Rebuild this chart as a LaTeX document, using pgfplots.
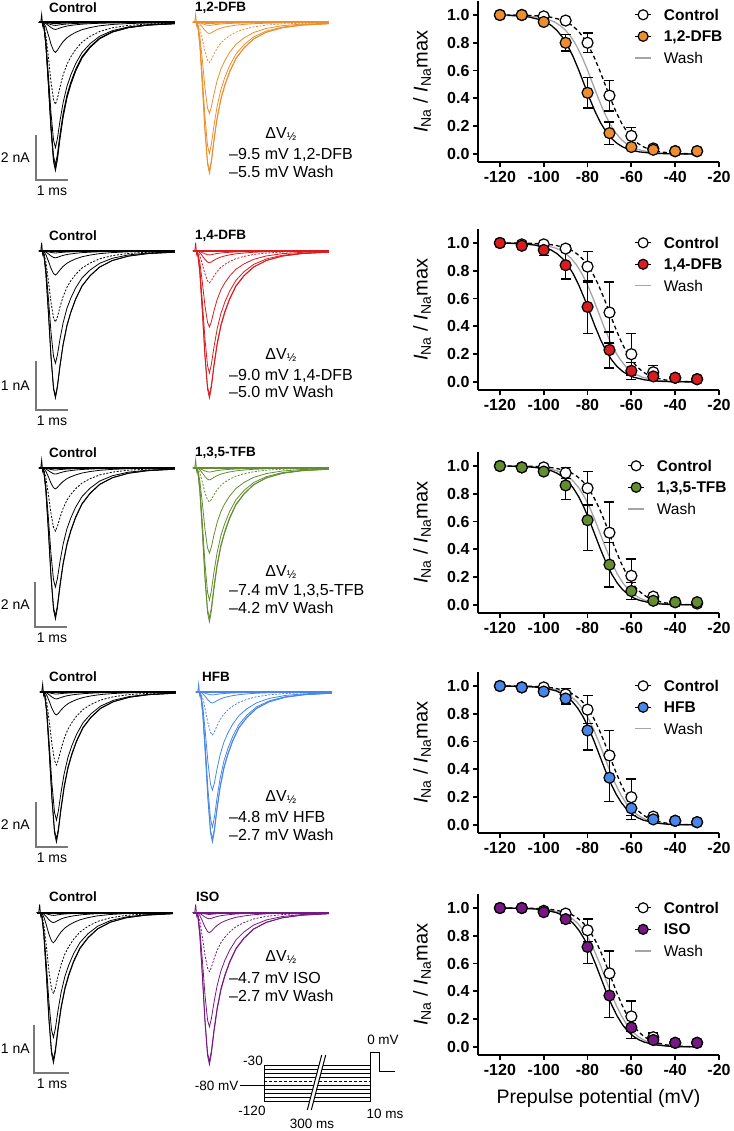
\documentclass[border=0pt]{standalone}
\usepackage{fontspec}
\setmainfont{Liberation Sans}
\usepackage{pgfplots}
\pgfplotsset{compat=1.18}
\usepackage{pgfplotstable}

\definecolor{cdfa}{RGB}{236,142,46}
\definecolor{cdfb}{RGB}{216,28,32}
\definecolor{ctfb}{RGB}{100,140,48}
\definecolor{chfb}{RGB}{72,134,232}
\definecolor{ciso}{RGB}{118,24,130}
\definecolor{washgray}{RGB}{165,165,165}
\definecolor{bargray}{RGB}{120,120,120}

\newcommand{\fs}[1]{\fontsize{#1}{#1}\selectfont}

% inactivation data: V, control mean/sem, drug mean/sem
\pgfplotstableread{
V c ce d de
-120 1.00 0 1.00 0
-110 1.00 0 1.00 0
-100 0.99 0 0.95 0.01
-90 0.96 0.01 0.80 0.06
-80 0.80 0.07 0.44 0.11
-70 0.42 0.11 0.15 0.08
-60 0.13 0.06 0.05 0.02
-50 0.04 0.01 0.03 0.01
-40 0.02 0 0.02 0
-30 0.02 0 0.02 0
}\rowA
\pgfplotstableread{
V c ce d de
-120 1.00 0 1.00 0
-110 0.99 0 0.98 0
-100 0.99 0 0.95 0.04
-90 0.96 0.02 0.84 0.10
-80 0.83 0.11 0.54 0.19
-70 0.50 0.22 0.23 0.13
-60 0.20 0.15 0.08 0.06
-50 0.07 0.05 0.04 0.01
-40 0.03 0 0.03 0
-30 0.02 0 0.02 0
}\rowB
\pgfplotstableread{
V c ce d de
-120 1.00 0 1.00 0
-110 0.99 0 0.99 0
-100 0.99 0 0.96 0.01
-90 0.95 0.04 0.86 0.10
-80 0.84 0.12 0.61 0.22
-70 0.52 0.22 0.29 0.16
-60 0.21 0.12 0.10 0.06
-50 0.06 0.01 0.03 0.01
-40 0.02 0 0.02 0
-30 0.01 0 0.02 0
}\rowC
\pgfplotstableread{
V c ce d de
-120 1.00 0 1.00 0
-110 0.99 0 0.99 0
-100 0.99 0 0.96 0.01
-90 0.94 0.04 0.91 0.04
-80 0.83 0.10 0.68 0.14
-70 0.50 0.18 0.34 0.17
-60 0.20 0.13 0.12 0.08
-50 0.06 0.01 0.04 0.01
-40 0.03 0 0.03 0
-30 0.02 0 0.02 0
}\rowD
\pgfplotstableread{
V c ce d de
-120 1.00 0 1.00 0
-110 1.00 0 1.00 0
-100 0.98 0 0.97 0.01
-90 0.96 0.01 0.92 0.03
-80 0.84 0.08 0.72 0.12
-70 0.53 0.16 0.37 0.16
-60 0.22 0.11 0.14 0.08
-50 0.07 0.03 0.05 0.01
-40 0.03 0 0.03 0
-30 0.03 0 0.03 0
}\rowE

% Boltzmann fit, tabulated against V - V1/2 (slope 6 mV)
\pgfplotstableread{
d f
-50 0.9998
-45 0.9994
-40 0.9987
-35 0.9971
-30 0.9933
-25 0.9847
-20 0.9656
-17.5 0.9488
-15 0.9241
-12.5 0.8893
-10 0.8411
-7.5 0.7773
-5 0.6971
-2.5 0.6027
0 0.5
2.5 0.3973
5 0.3029
7.5 0.2227
10 0.1589
12.5 0.1107
15 0.0759
17.5 0.0512
20 0.0344
25 0.0153
30 0.0067
35 0.0029
40 0.0013
45 0.0006
50 0.0002
55 0.0001
}\boltz

% normalised current trace (t in ms)
\pgfplotstableread{
t s
-0.1 0
0 0
0.06 0.03
0.12 0.15
0.2 0.42
0.28 0.72
0.36 0.94
0.42 1.0
0.48 0.93
0.56 0.79
0.66 0.64
0.78 0.51
0.9 0.42
1.05 0.33
1.25 0.24
1.5 0.17
1.8 0.11
2.2 0.065
2.7 0.035
3.3 0.018
4.15 0.008
}\shape

\pgfplotsset{
  ina/.style={
    scale only axis, width=241pt, height=161.2pt,
    xmin=-130, xmax=-20, ymin=-0.06, ymax=1.1,
    axis x line*=bottom, axis y line*=left,
    axis line style={line width=1.8pt},
    xtick={-120,-100,-80,-60,-40,-20},
    xticklabels={-120,-100,-80,-60,-40,-20},
    ytick={0,0.2,0.4,0.6,0.8,1},
    yticklabels={0.0,0.2,0.4,0.6,0.8,1.0},
    tick align=outside, major tick length=5pt,
    tick style={line width=1.8pt, black},
    ticklabel style={font=\bfseries\fs{16}},
    ylabel={\fs{20}\textit{I}\textsubscript{Na} / \textit{I}\textsubscript{Na}max},
    every axis y label/.style={at={(axis description cs:-0.232,0.5)}, rotate=90, anchor=center},
    clip=false, anchor=south west,
    legend cell align=left,
    legend style={draw=none, fill=none, inner sep=0pt, row sep=10.5pt,
      font=\bfseries\fs{15.5}, nodes={inner sep=0pt, text depth=0pt},
      /tikz/every odd column/.append style={column sep=12pt},
      anchor=north west, at={(0.648,0.951)}},
    legend image code/.code={
      \draw[mark repeat=2,mark phase=2,##1] plot coordinates {(0pt,0pt) (8pt,0pt) (16pt,0pt)};},
  },
  ctl/.style={only marks, mark=*, mark size=5.5pt,
    mark options={fill=white, draw=black, line width=1.2pt},
    error bars/y dir=both, error bars/y explicit,
    error bars/error bar style={black, line width=1.3pt, solid},
    error bars/error mark options={rotate=90, mark size=5pt, black, line width=1.3pt}},
  drg/.style={ctl, mark options={fill=#1, draw=black, line width=1.2pt}},
  fitc/.style={black, line width=1.3pt, dash pattern=on 4pt off 3pt},
  fitd/.style={black, line width=1.3pt},
  fitw/.style={washgray, line width=1.3pt},
  trace/.style={hide axis, x=32pt, xmin=-0.1, xmax=4.2, ymin=-8, ymax=0.5,
    anchor=north west, clip=false},
}

% fits: control, drug, wash half-inactivation voltages
\newcommand{\fits}[3]{%
  \addplot[fitw, forget plot, restrict x to domain=-121:-29] table[x expr=\thisrow{d}+(#3), y=f]{\boltz};
  \addplot[fitc, forget plot, restrict x to domain=-121:-29] table[x expr=\thisrow{d}+(#1), y=f]{\boltz};
  \addplot[fitd, forget plot, restrict x to domain=-121:-29] table[x expr=\thisrow{d}+(#2), y=f]{\boltz};
}
\newcommand{\pts}[2]{%
  \addplot[forget plot, ctl] table[x=V, y=c, y error=ce]{#1};
  \addplot[forget plot, drg=#2] table[x=V, y=d, y error=de]{#1};
}
\newcommand{\leg}[2]{%
  \addlegendimage{black, line width=1pt, mark=*, mark size=5pt, mark options={fill=white, line width=1.2pt}}
  \addlegendentry{Control}
  \addlegendimage{black, line width=1pt, mark=*, mark size=5pt, mark options={fill=#1, line width=1.2pt}}
  \addlegendentry{#2}
  \addlegendimage{washgray, line width=1.5pt}
  \addlegendentry{\mdseries Wash}
}
% one current trace: colour, peak amplitude (nA)
\newcommand{\tr}[3][]{\addplot[#2, line width=0.8pt, #1] table[x=t, y expr={-#3*\thisrow{s}}]{\shape};}
\newcommand{\base}[3]{%
  \addplot[#1, line width=2pt] coordinates {(-0.1,0) (4.15,0)};
  \addplot[#1, line width=0.8pt] coordinates {(-0.04,0) (-0.01,#2) (0.02,#3) (0.05,0)};
}
\newcommand{\dv}[5]{%
  \node[font=\fs{16}] at (281pt,-#1pt) {ΔV\textsubscript{½}};
  \node[font=\fs{16}, anchor=west] at (229pt,-#2pt) {#4};
  \node[font=\fs{16}, anchor=west] at (229pt,-#3pt) {#5};
}
\newcommand{\names}[3]{%
  \node[font=\bfseries\fs{13.5}] at (73pt,-#1pt) {Control};
  \node[font=\bfseries\fs{13.5}, anchor=west] at (#2pt,-#1pt) {#3};
}

\begin{document}
\begin{tikzpicture}
\path[use as bounding box] (0,0) rectangle (733pt,-1131pt);

% ---------------- row 1: 1,2-DFB
\begin{axis}[trace, y=22.5pt, at={(38.8pt,-11.25pt)}]
  \base{black}{0.36}{-0.15}
  \tr{black}{6.58}\tr{black}{6.49}\tr{black}{6.31}\tr{black}{5.56}
  \tr[dash pattern=on 2pt off 1.5pt]{black}{3.64}
  \tr{black}{1.33}\tr{black}{0.31}\tr{black}{0.13}\tr{black}{0.05}
\end{axis}
\begin{axis}[trace, y=22.5pt, at={(192.8pt,-11.25pt)}]
  \base{cdfa}{0.36}{-0.15}
  \tr{cdfa}{6.71}\tr{cdfa}{6.58}\tr{cdfa}{5.82}\tr{cdfa}{4.04}
  \tr[dash pattern=on 2pt off 1.5pt]{cdfa}{1.78}
  \tr{cdfa}{0.49}\tr{cdfa}{0.13}\tr{cdfa}{0.05}
\end{axis}
\begin{axis}[ina, at={(478pt,-162.3pt)}]
  \fits{-72}{-81.5}{-77.5}
  \pts{\rowA}{cdfa}
  \leg{cdfa}{1,2-DFB}
\end{axis}

% ---------------- row 2: 1,4-DFB
\begin{axis}[trace, y=49pt, at={(38.8pt,-226.5pt)}]
  \base{black}{0.17}{-0.07}
  \tr{black}{3.0}\tr{black}{2.96}\tr{black}{2.29}
  \tr[dash pattern=on 2pt off 1.5pt]{black}{1.45}
  \tr{black}{0.49}\tr{black}{0.14}\tr{black}{0.04}
\end{axis}
\begin{axis}[trace, y=49pt, at={(192.8pt,-226.5pt)}]
  \base{cdfb}{0.17}{-0.07}
  \tr{cdfb}{3.0}\tr{cdfb}{2.94}\tr{cdfb}{2.49}\tr{cdfb}{1.55}
  \tr[dash pattern=on 2pt off 1.5pt]{cdfb}{0.65}
  \tr{cdfb}{0.24}\tr{cdfb}{0.08}
\end{axis}
\begin{axis}[ina, at={(478pt,-390.3pt)}]
  \fits{-70}{-79}{-75}
  \pts{\rowB}{cdfb}
  \leg{cdfb}{1,4-DFB}
\end{axis}

% ---------------- row 3: 1,3,5-TFB
\begin{axis}[trace, y=22.5pt, at={(38.8pt,-456.75pt)}]
  \base{black}{0.36}{-0.15}
  \tr{black}{6.71}\tr{black}{6.58}\tr{black}{5.29}
  \tr[dash pattern=on 2pt off 1.5pt]{black}{2.8}
  \tr{black}{0.93}\tr{black}{0.27}\tr{black}{0.09}
\end{axis}
\begin{axis}[trace, y=22.5pt, at={(192.8pt,-456.75pt)}]
  \base{ctfb}{0.36}{-0.15}
  \tr{ctfb}{6.84}\tr{ctfb}{6.67}\tr{ctfb}{5.87}\tr{ctfb}{3.78}
  \tr[dash pattern=on 2pt off 1.5pt]{ctfb}{1.51}
  \tr{ctfb}{0.53}\tr{ctfb}{0.18}
\end{axis}
\begin{axis}[ina, at={(478pt,-613.3pt)}, legend style={at={(0.619,0.951)}}]
  \fits{-69.7}{-76.5}{-73.9}
  \pts{\rowC}{ctfb}
  \leg{ctfb}{1,3,5-TFB}
\end{axis}

% ---------------- row 4: HFB
\begin{axis}[trace, y=22.5pt, at={(39.8pt,-680.75pt)}]
  \base{black}{0.36}{-0.15}
  \tr{black}{6.67}\tr{black}{6.53}\tr{black}{5.69}
  \tr[dash pattern=on 2pt off 1.5pt]{black}{3.24}
  \tr{black}{1.02}\tr{black}{0.31}\tr{black}{0.09}
\end{axis}
\begin{axis}[trace, y=22.5pt, at={(195.8pt,-680.75pt)}]
  \base{chfb}{0.36}{-0.15}
  \tr{chfb}{6.67}\tr{chfb}{6.53}\tr{chfb}{6.0}\tr{chfb}{4.36}
  \tr[dash pattern=on 2pt off 1.5pt]{chfb}{1.91}
  \tr{chfb}{0.49}\tr{chfb}{0.13}
\end{axis}
\begin{axis}[ina, at={(478pt,-833.3pt)}]
  \fits{-70}{-74.5}{-72.5}
  \pts{\rowD}{chfb}
  \leg{chfb}{HFB}
\end{axis}

% ---------------- row 5: ISO
\begin{axis}[trace, y=48pt, at={(36.8pt,-888.5pt)}]
  \base{black}{0.17}{-0.07}
  \tr{black}{3.13}\tr{black}{3.06}\tr{black}{2.6}
  \tr[dash pattern=on 2pt off 1.5pt]{black}{1.69}
  \tr{black}{0.63}\tr{black}{0.21}\tr{black}{0.06}
\end{axis}
\begin{axis}[trace, y=48pt, at={(192.8pt,-888.5pt)}]
  \base{ciso}{0.17}{-0.07}
  \tr{ciso}{3.17}\tr{ciso}{3.1}\tr{ciso}{2.38}
  \tr[dash pattern=on 2pt off 1.5pt]{ciso}{1.23}
  \tr{ciso}{0.42}\tr{ciso}{0.13}\tr{ciso}{0.04}
\end{axis}
\begin{axis}[ina, at={(478pt,-1055.3pt)},
    xlabel={Prepulse potential (mV)},
    every axis x label/.style={at={(axis description cs:0.5,0)}, anchor=center, yshift=-43pt, font=\fs{19.5}}]
  \fits{-69.3}{-74}{-72}
  \pts{\rowE}{ciso}
  \leg{ciso}{ISO}
\end{axis}

% ---------------- labels and scale bars
\begin{scope}[every node/.style={inner sep=0pt}]
  \names{8}{195}{1,2-DFB}
  \names{236}{195}{1,4-DFB}
  \names{453}{195}{1,3,5-TFB}
  \names{677}{202}{HFB}
  \names{897}{196}{ISO}
  \draw[bargray, line width=1.2pt] (36pt,-135pt) -- (36pt,-180pt) -- (68pt,-180pt);
  \draw[bargray, line width=1.2pt] (36pt,-361pt) -- (36pt,-410pt) -- (68pt,-410pt);
  \draw[bargray, line width=1.2pt] (35pt,-582pt) -- (35pt,-627pt) -- (67pt,-627pt);
  \draw[bargray, line width=1.2pt] (36pt,-802pt) -- (36pt,-847pt) -- (68pt,-847pt);
  \draw[bargray, line width=1.2pt] (34pt,-1025pt) -- (34pt,-1073pt) -- (69pt,-1073pt);
  \foreach \y/\t in {157.5/2 nA, 385.5/1 nA, 604.5/2 nA, 824.5/2 nA, 1049/1 nA}
    \node[font=\fs{14}, anchor=east] at (30pt,-\y pt) {\t};
  \foreach \y in {191, 421, 638, 858, 1084}
    \node[font=\fs{14}] at (52pt,-\y pt) {1 ms};
  \dv{134}{155}{172}{–9.5 mV 1,2-DFB}{–5.5 mV Wash}
  \dv{355}{376}{392}{–9.0 mV 1,4-DFB}{–5.0 mV Wash}
  \dv{572}{591}{608}{–7.4 mV 1,3,5-TFB}{–4.2 mV Wash}
  \dv{797}{817}{835}{–4.8 mV HFB}{–2.7 mV Wash}
  \dv{957}{978}{996}{–4.7 mV ISO}{–2.7 mV Wash}
\end{scope}

% ---------------- voltage protocol
\begin{scope}[line width=1pt]
  \foreach \k in {0,1,2,3,5,6,7,8,9}
    \draw (264pt,-1065pt-\k*4.08pt) -- (370pt,-1065pt-\k*4.08pt);
  \draw[dash pattern=on 3pt off 2pt] (264pt,-1081.3pt) -- (370pt,-1081.3pt);
  \draw (240pt,-1085.4pt) -- (264pt,-1085.4pt);
  \draw (264pt,-1065pt) -- (264pt,-1101.7pt);
  \draw (370pt,-1101.7pt) -- (370pt,-1052.5pt) -- (379pt,-1052.5pt) -- (379pt,-1071.7pt) -- (395pt,-1071.7pt);
  \fill[white] (307.3pt,-1110pt) -- (321.7pt,-1055pt) -- (325.7pt,-1055pt) -- (311.3pt,-1110pt) -- cycle;
  \draw (307.3pt,-1110pt) -- (321.7pt,-1055pt);
  \draw (311.3pt,-1110pt) -- (325.7pt,-1055pt);
  \begin{scope}[every node/.style={inner sep=0pt, font=\fs{13.5}}]
    \node at (253pt,-1060.7pt) {-30};
    \node[anchor=east] at (239pt,-1085.4pt) {-80 mV};
    \node at (252pt,-1111pt) {-120};
    \node at (312pt,-1124pt) {300 ms};
    \node at (385pt,-1114pt) {10 ms};
    \node at (383pt,-1040pt) {0 mV};
  \end{scope}
\end{scope}
\end{tikzpicture}
\end{document}
